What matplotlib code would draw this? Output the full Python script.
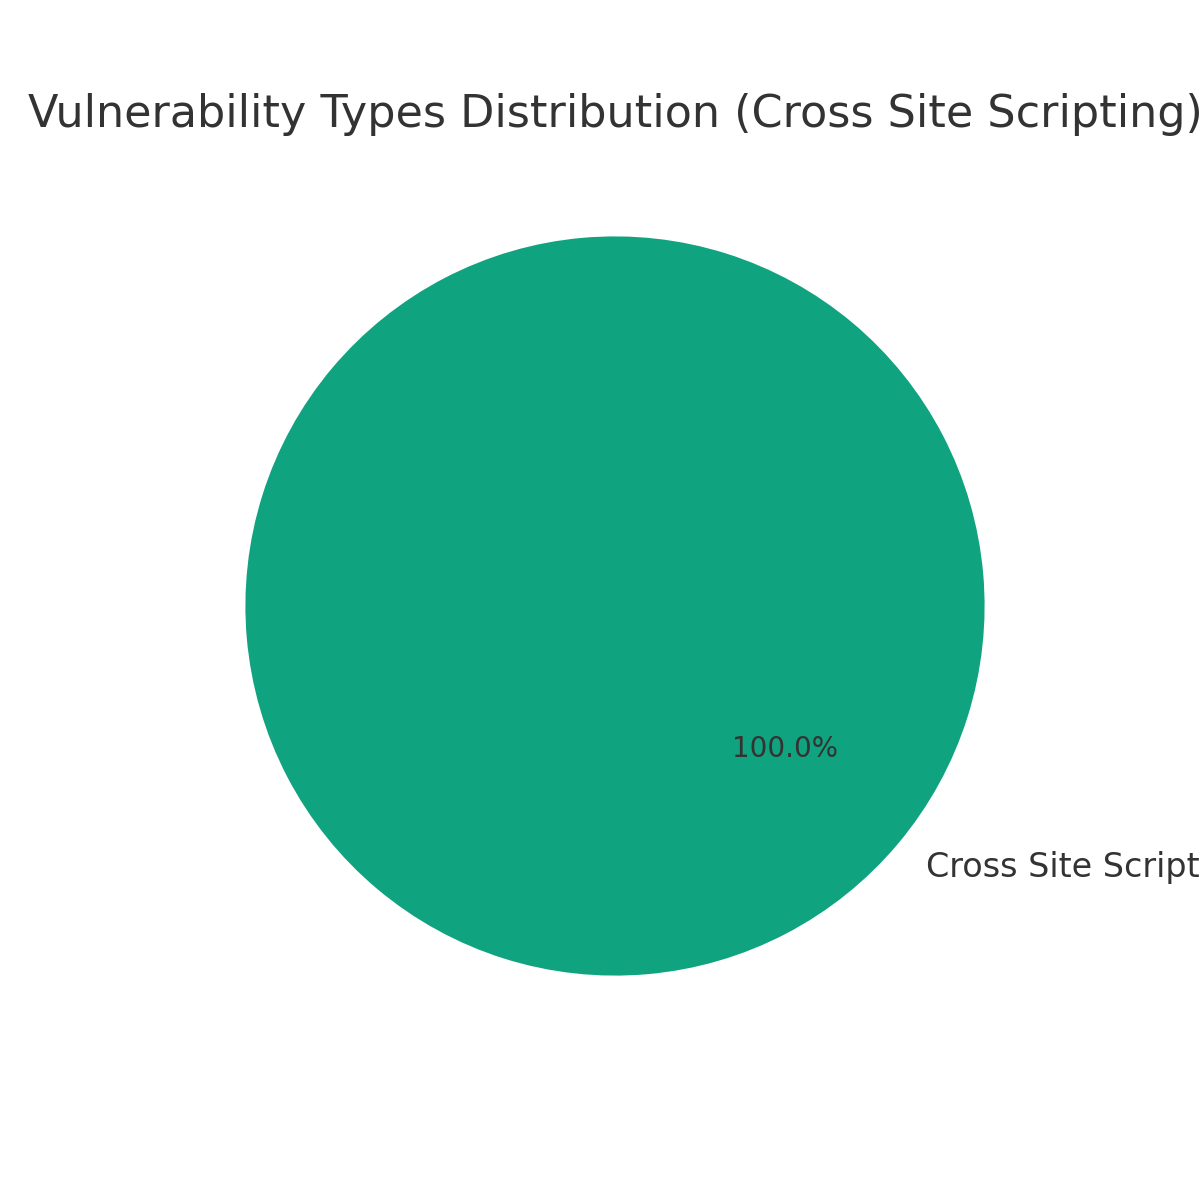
import matplotlib
matplotlib.use("Agg")
import matplotlib.pyplot as plt

# data
categories = ["Cross Site Scripting"]
counts = [1]
colors = ["#10a37f"]

plt.rcParams['text.color'] = '#333333'

fig = plt.figure(figsize=(6, 6), dpi=200)
ax = fig.add_subplot(111)

ax.pie(counts, labels=categories, colors=colors, autopct='%1.1f%%',
       startangle=140, textprops={'color': '#333333', 'fontsize': 12})

# percentage text is smaller than the label
for t in ax.texts:
    if t.get_text().endswith('%'):
        t.set_fontsize(10)

ax.set_title('Vulnerability Types Distribution (Cross Site Scripting)',
             fontsize=16, color='#333333')

plt.savefig('out.png', dpi=200)
